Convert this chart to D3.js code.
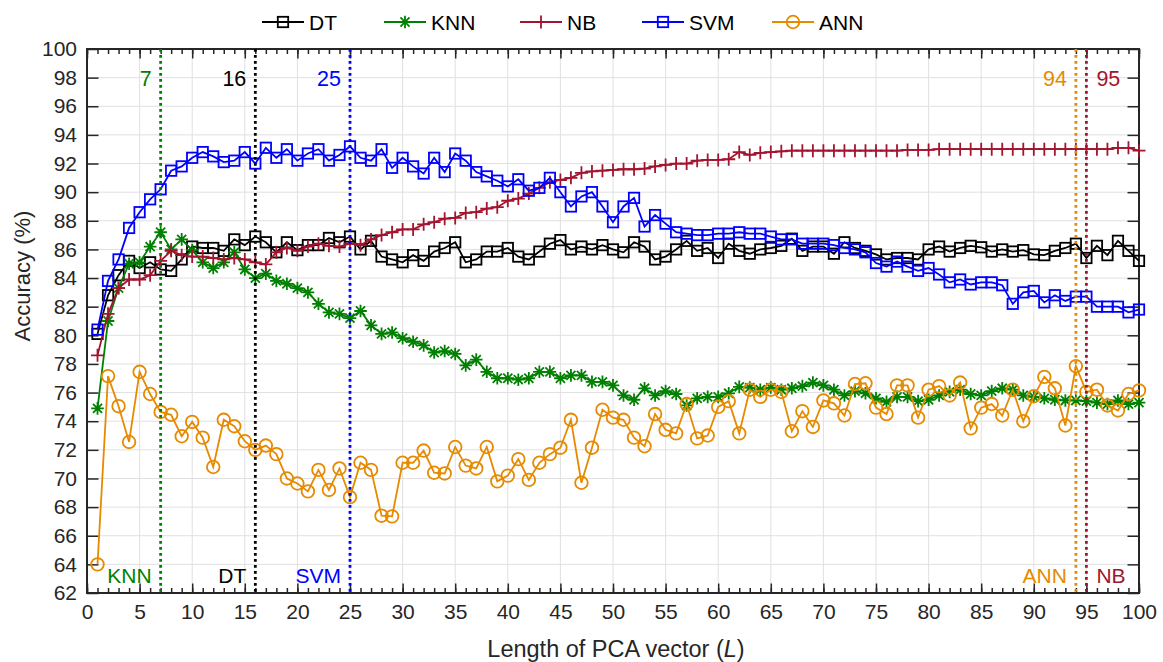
<!DOCTYPE html>
<meta charset="utf-8">
<body style="margin:0;background:#fff;">
<svg width="1163" height="662"></svg>
</body>
<script src="https://cdn.jsdelivr.net/npm/d3@7"></script>
<script>
    // PCA vector length on the x axis
    let lengths = d3.range(1, 101);

    let dt = [80.1, 82.8, 84.2, 85.2, 84.7, 85.1, 84.6, 84.5, 85.3, 86.2,
        86.1, 86.1, 85.9, 86.7, 86.3, 86.9, 86.5, 85.8, 86.5, 85.95,
        86.3, 86.3, 86.8, 86.5, 86.9, 86.0, 86.6, 85.5, 85.3, 85.1,
        85.6, 85.2, 85.85, 86.1, 86.5, 85.1, 85.3, 85.85, 85.85, 86.1,
        85.5, 85.3, 85.85, 86.4, 86.65, 86.0, 86.2, 86.0, 86.3, 86.0,
        85.8, 86.5, 86.2, 85.3, 85.5, 86.0, 86.6, 85.9, 86.1, 85.4,
        86.4, 85.9, 85.7, 86.0, 86.1, 86.25, 86.75, 85.9, 86.2, 86.2,
        85.7, 86.5, 86.1, 85.9, 85.65, 85.3, 85.4, 85.4, 85.3, 86.0,
        86.2, 85.85, 86.1, 86.25, 86.15, 85.85, 86.0, 85.85, 85.95, 85.65,
        85.6, 85.9, 86.1, 86.4, 85.4, 86.25, 85.6, 86.6, 85.9, 85.2];

    let knn = [74.9, 81.0, 83.3, 85.0, 85.1, 86.2, 87.2, 86.0, 86.7, 85.95,
        85.1, 84.7, 85.1, 85.8, 84.6, 84.0, 84.3, 83.8, 83.6, 83.3,
        83.0, 82.2, 81.6, 81.5, 81.2, 81.7, 80.7, 80.1, 80.2, 79.8,
        79.55, 79.3, 78.8, 78.9, 78.7, 77.9, 78.3, 77.45, 77.0, 77.0,
        76.9, 77.0, 77.45, 77.45, 77.0, 77.2, 77.2, 76.75, 76.75, 76.5,
        75.8, 75.5, 76.3, 75.8, 76.1, 75.9, 75.1, 75.6, 75.7, 75.7,
        75.95, 76.4, 76.35, 76.2, 76.35, 76.2, 76.3, 76.45, 76.7, 76.5,
        76.2, 75.8, 76.1, 75.95, 75.6, 75.35, 75.7, 75.7, 75.4, 75.5,
        75.8, 76.05, 76.2, 75.9, 75.8, 76.1, 76.3, 76.2, 75.8, 75.7,
        75.6, 75.5, 75.45, 75.45, 75.4, 75.3, 75.2, 75.45, 75.2, 75.3];

    let nb = [78.6, 81.5, 83.3, 83.9, 83.9, 84.2, 85.2, 85.9, 85.6, 85.5,
        85.5, 85.4, 85.3, 85.4, 85.3, 85.1, 84.95, 85.8, 86.1, 85.9,
        86.2, 86.4, 86.25, 86.2, 86.4, 86.3, 86.7, 87.0, 87.2, 87.4,
        87.4, 87.75, 87.9, 88.15, 88.2, 88.55, 88.6, 88.85, 88.95, 89.4,
        89.55, 89.9, 90.3, 90.7, 90.85, 91.0, 91.35, 91.45, 91.5, 91.55,
        91.6, 91.6, 91.65, 91.8, 91.9, 92.0, 92.0, 92.2, 92.25, 92.25,
        92.3, 92.8, 92.6, 92.75, 92.8, 92.85, 92.9, 92.9, 92.9, 92.9,
        92.9, 92.9, 92.9, 92.9, 92.9, 92.9, 92.9, 92.95, 92.95, 92.95,
        93.0, 93.0, 93.0, 93.0, 93.0, 93.0, 93.0, 93.0, 93.0, 93.0,
        93.0, 93.0, 93.0, 93.0, 93.0, 93.0, 93.0, 93.1, 93.1, 92.9];

    let svm = [80.4, 83.8, 85.3, 87.5, 88.6, 89.5, 90.2, 91.5, 91.8, 92.4,
        92.8, 92.5, 92.1, 92.2, 92.8, 92.0, 93.1, 92.4, 93.0, 92.2,
        92.7, 93.0, 92.2, 92.6, 93.2, 92.4, 92.2, 93.0, 91.7, 92.4,
        91.8, 91.3, 92.4, 91.4, 92.7, 92.2, 91.4, 91.1, 90.8, 90.4,
        90.9, 90.1, 90.3, 91.0, 90.0, 89.0, 89.7, 90.0, 89.0, 87.9,
        89.0, 89.6, 87.6, 88.4, 87.8, 87.2, 87.1, 87.0, 87.0, 87.1,
        87.1, 87.2, 87.1, 87.1, 86.9, 86.7, 86.7, 86.4, 86.4, 86.4,
        86.3, 86.1, 86.0, 85.8, 85.05, 84.8, 85.15, 84.8, 84.5, 84.7,
        84.25, 83.7, 83.9, 83.55, 83.7, 83.7, 83.5, 82.2, 83.0, 83.1,
        82.3, 82.8, 82.4, 82.7, 82.7, 82.0, 82.0, 82.0, 81.6, 81.8];

    let ann = [64.0, 77.15, 75.05, 72.55, 77.45, 75.9, 74.65, 74.45, 72.95, 73.95,
        72.85, 70.8, 74.1, 73.65, 72.6, 72.0, 72.3, 71.7, 70.0, 69.65,
        69.1, 70.6, 69.2, 70.7, 68.7, 71.1, 70.6, 67.4, 67.35, 71.1,
        71.1, 71.95, 70.4, 70.35, 72.2, 70.9, 70.7, 72.2, 69.8, 70.2,
        71.35, 69.9, 71.1, 71.7, 72.15, 74.1, 69.7, 72.15, 74.8, 74.25,
        74.1, 72.85, 72.25, 74.5, 73.4, 73.15, 75.2, 72.8, 73.0, 75.0,
        75.4, 73.15, 76.2, 75.7, 76.2, 76.05, 73.3, 74.7, 73.6, 75.45,
        75.25, 74.4, 76.6, 76.65, 74.95, 74.5, 76.5, 76.5, 74.25, 76.2,
        76.45, 75.8, 76.7, 73.5, 74.95, 75.2, 74.4, 76.2, 74.0, 75.75,
        77.1, 76.3, 73.7, 77.85, 76.05, 76.2, 75.1, 74.75, 75.9, 76.15];

    let names = ["DT", "KNN", "NB", "SVM", "ANN"];
    let colors = ["#000000", "#008000", "#A2142F", "#0000FF", "#E68A00"];
    let symbols = ["square", "star", "plus", "square", "circle"];
    let series = [dt, knn, nb, svm, ann];

    // best length per classifier
    let bestL = [16, 7, 95, 25, 94];

    let xTicks = d3.range(0, 101, 5);
    let yTicks = d3.range(62, 101, 2);

    let svg = d3.select("svg"),
        font = "'Liberation Sans', Arial, sans-serif",
        textColor = "#262626";

    let pLeft = 87, pRight = 1139, pTop = 49, pBottom = 593;
    let x = d3.scaleLinear().domain([0, 100]).range([pLeft, pRight]);
    let y = d3.scaleLinear().domain([62, 100]).range([pBottom, pTop]);

    // grid
    let grid = svg.append("g").attr("stroke", "#e0e0e0").attr("stroke-width", 1);
    xTicks.slice(1, -1).forEach(t => {
        grid.append("line").attr("x1", x(t)).attr("x2", x(t)).attr("y1", pTop).attr("y2", pBottom);
    });
    yTicks.slice(1, -1).forEach(t => {
        grid.append("line").attr("y1", y(t)).attr("y2", y(t)).attr("x1", pLeft).attr("x2", pRight);
    });

    // axes (ticks inward)
    let axisStyle = (g) => {
        g.selectAll(".domain").remove();
        g.selectAll("line").attr("stroke", textColor).attr("stroke-width", 1.5);
        g.selectAll("text").attr("font-family", font).attr("font-size", 21).attr("fill", textColor);
    };
    svg.append("g").attr("transform", `translate(0,${pBottom})`)
        .call(d3.axisBottom(x).tickValues(d3.range(0, 101, 1)).tickSize(-5).tickFormat(""))
        .call(axisStyle);
    svg.append("g").attr("transform", `translate(0,${pBottom})`)
        .call(d3.axisBottom(x).tickValues(xTicks).tickSize(-9.5).tickPadding(11))
        .call(axisStyle);
    svg.append("g").attr("transform", `translate(0,${pTop})`)
        .call(d3.axisTop(x).tickValues(d3.range(0, 101, 1)).tickSize(-5).tickFormat(""))
        .call(axisStyle);
    svg.append("g").attr("transform", `translate(0,${pTop})`)
        .call(d3.axisTop(x).tickValues(xTicks).tickSize(-9.5).tickFormat(""))
        .call(axisStyle);
    svg.append("g").attr("transform", `translate(${pLeft},0)`)
        .call(d3.axisLeft(y).tickValues(yTicks).tickSize(-11.5).tickPadding(10))
        .call(axisStyle);
    svg.append("g").attr("transform", `translate(${pRight},0)`)
        .call(d3.axisRight(y).tickValues(yTicks).tickSize(-11.5).tickFormat(""))
        .call(axisStyle);

    svg.append("rect").attr("x", pLeft).attr("y", pTop)
        .attr("width", pRight - pLeft).attr("height", pBottom - pTop)
        .attr("fill", "none").attr("stroke", textColor).attr("stroke-width", 2);

    // axis titles
    let xt = svg.append("text").attr("x", 616).attr("y", 657)
        .attr("text-anchor", "middle").attr("font-family", font).attr("font-size", 23.5).attr("fill", textColor);
    xt.append("tspan").text("Length of PCA vector (");
    xt.append("tspan").attr("font-style", "italic").text("L");
    xt.append("tspan").text(")");
    svg.append("text").attr("transform", "translate(30,276) rotate(-90)")
        .attr("text-anchor", "middle").attr("font-family", font).attr("font-size", 22).attr("fill", textColor)
        .text("Accuracy (%)");

    // markers
    let marker = (g, sym, color, cx, cy) => {
        if (sym === "square") {
            g.append("rect").attr("x", cx - 5.2).attr("y", cy - 5.2).attr("width", 10.4).attr("height", 10.4)
                .attr("fill", "none").attr("stroke", color).attr("stroke-width", 1.8);
        } else if (sym === "circle") {
            g.append("circle").attr("cx", cx).attr("cy", cy).attr("r", 6.3)
                .attr("fill", "none").attr("stroke", color).attr("stroke-width", 1.8);
        } else if (sym === "plus") {
            g.append("path").attr("d", `M${cx},${cy - 6.5}V${cy + 6.5}M${cx - 6.5},${cy}H${cx + 6.5}`)
                .attr("stroke", color).attr("stroke-width", 1.8).attr("fill", "none");
        } else {
            let r = 6.3, d = r * 0.72;
            g.append("path").attr("d", `M${cx},${cy - r}V${cy + r}M${cx - r},${cy}H${cx + r}` +
                `M${cx - d},${cy - d}L${cx + d},${cy + d}M${cx - d},${cy + d}L${cx + d},${cy - d}`)
                .attr("stroke", color).attr("stroke-width", 1.8).attr("fill", "none");
        }
    };

    let line = d3.line().x((d, i) => x(lengths[i])).y(d => y(d));
    series.forEach((vals, k) => {
        let g = svg.append("g");
        g.append("path").datum(vals).attr("d", line)
            .attr("fill", "none").attr("stroke", colors[k]).attr("stroke-width", 1.8);
        vals.forEach((v, i) => marker(g, symbols[k], colors[k], x(lengths[i]), y(v)));
    });

    // best-length markers
    bestL.forEach((b, k) => {
        svg.append("line").attr("x1", x(b)).attr("x2", x(b)).attr("y1", pTop).attr("y2", pBottom)
            .attr("stroke", colors[k]).attr("stroke-width", 2.8).attr("stroke-dasharray", "2.8,3.2");
        let after = names[k] === "NB";
        let tx = after ? x(b) + 10 : x(b) - 9;
        let anchor = after ? "start" : "end";
        svg.append("text").attr("x", tx).attr("y", 86).attr("text-anchor", anchor)
            .attr("font-family", font).attr("font-size", 21.5).attr("fill", colors[k]).text(b);
        svg.append("text").attr("x", tx).attr("y", 583).attr("text-anchor", anchor)
            .attr("font-family", font).attr("font-size", 21).attr("fill", colors[k]).text(names[k]);
    });

    // legend
    let legendX = [262, 384, 520, 642, 772];
    names.forEach((n, k) => {
        let g = svg.append("g"), lx = legendX[k], ly = 22;
        g.append("line").attr("x1", lx).attr("x2", lx + 42).attr("y1", ly).attr("y2", ly)
            .attr("stroke", colors[k]).attr("stroke-width", 1.8);
        marker(g, symbols[k], colors[k], lx + 21, ly);
        g.append("text").attr("x", lx + 47).attr("y", ly + 7.5).attr("font-family", font)
            .attr("font-size", 21).attr("fill", "#000").text(n);
    });
</script>
